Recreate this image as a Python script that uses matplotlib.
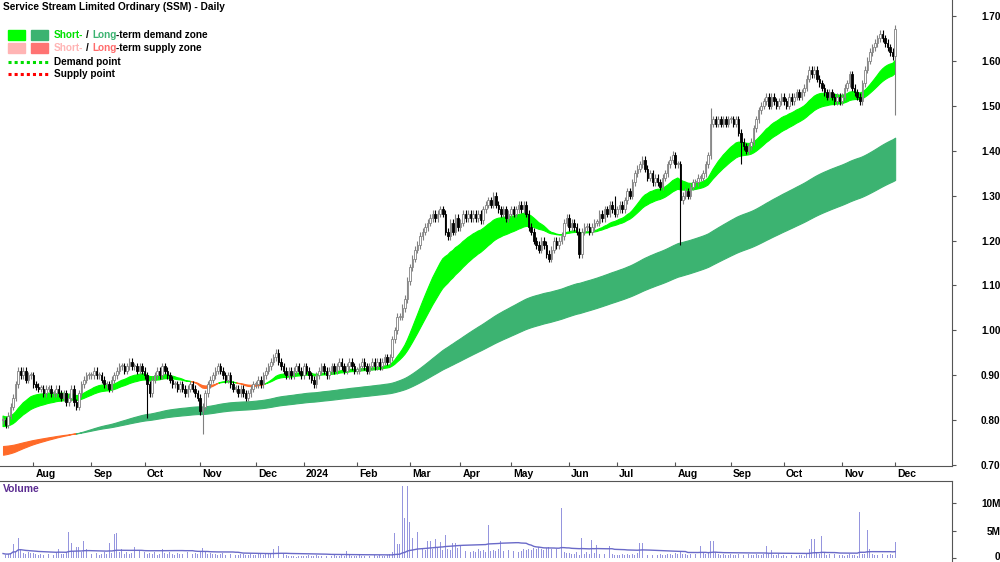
import matplotlib
matplotlib.use('Agg')
import matplotlib.pyplot as plt
import matplotlib.transforms as mtrans
import numpy as np
import pandas as pd
from matplotlib.patches import Rectangle
from matplotlib.lines import Line2D

plt.rcParams['font.family'] = ['Liberation Sans', 'DejaVu Sans']
plt.rcParams['font.weight'] = 'bold'

# one list per calendar month (trading days), Jul 2023 .. Dec 2024
month_labels = ['', 'Aug', 'Sep', 'Oct', 'Nov', 'Dec', '2024', 'Feb', 'Mar', 'Apr', 'May',
                'Jun', 'Jul', 'Aug', 'Sep', 'Oct', 'Nov', 'Dec']

closes = [
    [0.80, 0.79, 0.81, 0.83, 0.85, 0.88, 0.91, 0.90, 0.91, 0.89, 0.90, 0.90],
    [0.88, 0.875, 0.87, 0.87, 0.86, 0.87, 0.87, 0.86, 0.86, 0.87, 0.86, 0.85, 0.86, 0.84,
     0.85, 0.87, 0.84, 0.83, 0.86, 0.88, 0.89, 0.90, 0.90],
    [0.90, 0.91, 0.90, 0.90, 0.89, 0.88, 0.88, 0.87, 0.89, 0.90, 0.91, 0.92, 0.92, 0.91,
     0.92, 0.93, 0.92, 0.92, 0.91, 0.92, 0.91],
    [0.90, 0.88, 0.86, 0.89, 0.90, 0.91, 0.90, 0.92, 0.91, 0.90, 0.89, 0.88, 0.88, 0.87,
     0.88, 0.87, 0.86, 0.87, 0.88, 0.87, 0.86, 0.85],
    [0.82, 0.83, 0.86, 0.88, 0.89, 0.90, 0.91, 0.92, 0.91, 0.90, 0.89, 0.90, 0.88, 0.87,
     0.87, 0.86, 0.87, 0.86, 0.85, 0.86, 0.87, 0.88],
    [0.88, 0.89, 0.88, 0.90, 0.91, 0.92, 0.93, 0.94, 0.95, 0.93, 0.92, 0.91, 0.90, 0.91,
     0.90, 0.91, 0.92, 0.91, 0.90],
    [0.92, 0.91, 0.90, 0.89, 0.88, 0.90, 0.91, 0.92, 0.91, 0.90, 0.91, 0.92, 0.91, 0.92,
     0.93, 0.92, 0.91, 0.92, 0.93, 0.92, 0.91],
    [0.91, 0.92, 0.93, 0.92, 0.91, 0.92, 0.93, 0.92, 0.93, 0.92, 0.93, 0.94, 0.93, 0.94,
     0.98, 1.00, 1.03, 1.03, 1.05, 1.07, 1.11],
    [1.14, 1.16, 1.18, 1.19, 1.21, 1.22, 1.23, 1.24, 1.25, 1.26, 1.25, 1.26, 1.27, 1.26,
     1.22, 1.21, 1.24, 1.22, 1.25, 1.23],
    [1.24, 1.26, 1.25, 1.26, 1.25, 1.26, 1.25, 1.26, 1.245, 1.27, 1.28, 1.29, 1.28, 1.30,
     1.28, 1.27, 1.26, 1.27, 1.25, 1.26],
    [1.27, 1.26, 1.27, 1.28, 1.27, 1.28, 1.26, 1.23, 1.22, 1.20, 1.19, 1.18, 1.20, 1.19,
     1.17, 1.16, 1.18, 1.20, 1.19, 1.20, 1.21, 1.24, 1.25],
    [1.23, 1.24, 1.23, 1.22, 1.17, 1.22, 1.23, 1.23, 1.22, 1.23, 1.24, 1.24, 1.26, 1.25,
     1.27, 1.26, 1.28, 1.27, 1.26],
    [1.27, 1.28, 1.27, 1.29, 1.31, 1.30, 1.33, 1.35, 1.36, 1.37, 1.38, 1.36, 1.34, 1.35,
     1.33, 1.34, 1.33, 1.32, 1.34, 1.35, 1.37, 1.38, 1.39],
    [1.37, 1.37, 1.29, 1.30, 1.31, 1.30, 1.32, 1.33, 1.33, 1.34, 1.34, 1.35, 1.37, 1.39,
     1.46, 1.47, 1.46, 1.47, 1.46, 1.47, 1.46, 1.47],
    [1.47, 1.46, 1.47, 1.44, 1.42, 1.41, 1.40, 1.41, 1.42, 1.45, 1.47, 1.49, 1.50, 1.51,
     1.52, 1.50, 1.52, 1.51, 1.50, 1.51, 1.52],
    [1.51, 1.50, 1.52, 1.51, 1.52, 1.53, 1.52, 1.53, 1.54, 1.56, 1.58, 1.57, 1.58, 1.56,
     1.55, 1.54, 1.53, 1.52, 1.53, 1.52, 1.51, 1.52, 1.51],
    [1.52, 1.54, 1.55, 1.57, 1.54, 1.53, 1.52, 1.51, 1.55, 1.58, 1.60, 1.62, 1.63, 1.64,
     1.65, 1.66, 1.65, 1.64, 1.63, 1.62, 1.61],
    [1.67],
]

volumes = [  # millions
    [0.9, 0.7, 0.8, 1.0, 2.6, 1.2, 3.8, 1.8, 1.0, 0.9, 1.1, 1.0],
    [1.0, 0.8, 0.6, 0.9, 0.7, 0.6, 0.8, 0.9, 0.7, 1.0, 1.7, 0.8, 0.9, 1.1, 4.8, 2.8, 1.4,
     2.0, 2.0, 1.2, 3.2, 1.7, 1.7],
    [0.9, 0.8, 1.0, 0.7, 0.9, 1.1, 0.8, 2.8, 1.0, 4.4, 4.6, 1.2, 1.7, 0.9, 1.1, 0.8, 1.0,
     2.0, 0.9, 1.6, 0.8],
    [1.2, 0.9, 1.0, 0.8, 1.1, 0.7, 0.9, 1.7, 1.0, 0.8, 1.2, 0.9, 0.7, 1.0, 0.8, 0.9, 0.7,
     1.1, 0.8, 0.9, 1.0, 0.8],
    [1.3, 1.85, 1.1, 0.9, 1.0, 0.8, 0.9, 0.7, 0.8, 1.0, 0.6, 0.7, 0.9, 0.8, 0.6, 0.7, 0.8,
     0.9, 0.6, 0.7, 0.8, 0.7],
    [0.7, 0.8, 0.9, 0.7, 0.8, 1.0, 0.9, 1.7, 1.6, 2.2, 1.0, 0.8, 0.6, 0.5, 0.4, 0.5, 0.3,
     0.4, 0.5],
    [0.4, 0.5, 0.6, 0.5, 0.4, 0.6, 0.5, 0.4, 0.6, 0.5, 0.4, 0.5, 0.6, 0.4, 0.5, 0.6, 0.5,
     1.4, 0.6, 0.5, 0.4],
    [0.5, 0.6, 0.4, 0.5, 0.6, 0.5, 0.4, 0.7, 0.5, 0.6, 0.5, 0.4, 0.6, 0.9, 1.2, 4.6, 2.6,
     2.6, 13.1, 7.3, 13.1],
    [6.7, 3.8, 5.5, 4.9, 2.0, 1.8, 1.6, 3.2, 3.2, 1.7, 3.5, 1.9, 3.0, 1.6, 4.2, 1.8, 1.5,
     2.8, 2.8, 1.9],
    [2.2, 1.5, 1.3, 1.6, 1.2, 1.4, 1.1, 1.7, 1.3, 1.5, 1.2, 6.0, 1.4, 1.6, 1.3, 1.8, 3.2,
     1.4, 1.2, 1.5],
    [1.6, 1.3, 1.5, 1.2, 1.4, 1.7, 1.5, 1.8, 1.6, 1.9, 1.7, 2.0, 1.8, 1.6, 1.9, 2.1, 1.7,
     1.5, 1.8, 1.6, 9.1, 1.2, 1.0],
    [1.0, 0.8, 0.9, 1.1, 0.7, 3.8, 0.9, 1.2, 0.8, 3.3, 1.0, 2.5, 0.9, 1.3, 0.8, 0.7, 2.2,
     0.9, 0.6],
    [0.7, 0.6, 0.8, 0.7, 0.9, 0.6, 0.8, 0.7, 1.0, 2.9, 2.9, 0.9, 0.7, 0.8, 0.6, 0.9, 0.7,
     0.8, 0.6, 0.7, 0.9, 0.8, 0.7],
    [1.0, 0.9, 1.2, 0.8, 0.9, 0.7, 0.8, 0.6, 0.9, 1.1, 2.2, 1.0, 0.8, 1.2, 3.2, 3.2, 1.1,
     0.9, 0.7, 0.8, 0.6, 0.7],
    [0.8, 0.6, 0.7, 0.9, 0.6, 0.7, 0.5, 0.8, 0.6, 0.7, 0.9, 0.6, 0.7, 0.8, 2.3, 0.9, 1.6,
     0.7, 0.6, 0.8, 0.5],
    [0.6, 0.5, 0.7, 0.6, 0.8, 0.5, 0.6, 0.7, 0.5, 0.9, 1.8, 3.6, 3.5, 1.0, 0.8, 4.0, 1.1,
     0.7, 0.8, 0.6, 0.9, 1.7, 0.6],
    [0.7, 0.5, 0.6, 0.8, 0.6, 0.7, 0.5, 8.5, 0.9, 0.8, 5.1, 1.7, 0.8, 0.6, 0.7, 0.5, 0.8,
     0.6, 0.7, 0.9, 0.6],
    [3.0],
]

first_open = 0.80
# long wicks (day index -> price)
low_spikes = {57: 0.805, 79: 0.77, 268: 1.19, 292: 1.37, 353: 1.48}
high_spikes = {280: 1.495, 353: 1.68, 242: 1.30, 265: 1.40}

# band levels before the first day
short_seed = (0.81, 0.785)
long_seed = (0.722, 0.742)

close = np.array([c for m in closes for c in m])
vol = np.array([v for m in volumes for v in m])
n = len(close)
x = np.arange(n)
month_start = np.cumsum([0] + [len(m) for m in closes])[:-1]

opens = np.concatenate([[first_open], close[:-1]])
top = np.maximum(opens, close)
bot = np.minimum(opens, close)
high = top + 0.008
low = bot - 0.008
for k, v in low_spikes.items():
    low[k] = v
for k, v in high_spikes.items():
    high[k] = v


def ema(vals, span, seed):
    a = 2.0 / (span + 1)
    out = np.empty(len(vals))
    prev = seed
    for i, v in enumerate(vals):
        prev = prev + a * (v - prev)
        out[i] = prev
    return out


s_fast = ema(close, 23, short_seed[0])
s_slow = ema(close, 40, short_seed[1])
l_fast = ema(close, 140, long_seed[0])
l_slow = ema(close, 220, long_seed[1])

fig = plt.figure(figsize=(10, 5.62), dpi=100)
ax = fig.add_axes([0, 1 - 466 / 562, 0.952, 466 / 562])
axv = fig.add_axes([0, 0, 0.952, 81 / 562])

demand_s, demand_l, supply = '#00FF00', '#3CB371', '#FF6A28'

for fast, slow, col in [(l_fast, l_slow, demand_l), (s_fast, s_slow, demand_s)]:
    up = fast >= slow
    ax.fill_between(x, fast, slow, where=up, interpolate=True, color=col, lw=0.8, zorder=1)
    ax.fill_between(x, fast, slow, where=~up, interpolate=True, color=supply, lw=0.8, zorder=1)

rising = close >= opens
wick_col = np.where(rising, '#808080', 'black')
ax.vlines(x, low, high, colors=wick_col, lw=0.8, zorder=2)
ax.bar(x, np.maximum(top - bot, 0.003), bottom=bot, width=0.62,
       color=np.where(rising, 'white', 'black'), edgecolor=wick_col, lw=0.6, zorder=3)

ax.set_xlim(-1.2, 375.5)
ax.set_ylim(0.698, 1.7356)
for s in ['top', 'left']:
    ax.spines[s].set_visible(False)
ax.spines['right'].set_color('#555555')
ax.spines['bottom'].set_color('#555555')
ax.yaxis.tick_right()
ax.set_yticks(np.arange(0.7, 1.71, 0.1))
ax.set_yticklabels(['%.2f' % t for t in np.arange(0.7, 1.71, 0.1)])
ax.tick_params(axis='y', direction='out', length=3, pad=32, labelsize=7.2, colors='#555555',
               labelcolor='black')
for lab in ax.get_yticklabels():
    lab.set_ha('right')
ax.set_xticks(month_start[1:])
ax.set_xticklabels(month_labels[1:])
ax.tick_params(axis='x', direction='in', length=3, pad=2, labelsize=7.5, colors='#555555',
               labelcolor='black')
shift = mtrans.ScaledTranslation(2 / 100, 0, fig.dpi_scale_trans)
for lab in ax.get_xticklabels():
    lab.set_ha('left')
    lab.set_transform(lab.get_transform() + shift)

# volume
vol_ma = pd.Series(vol).rolling(50, min_periods=1).mean()
axv.bar(x, vol, width=0.35, color='#9595DE', zorder=2)
axv.plot(x, vol_ma, color='#6A6AC8', lw=1.0, zorder=3)
axv.set_xlim(-1.2, 375.5)
axv.set_ylim(-0.64, 14.09)
for s in ['left', 'bottom']:
    axv.spines[s].set_visible(False)
axv.spines['right'].set_color('#555555')
axv.spines['top'].set_color('#555555')
axv.set_xticks([])
axv.yaxis.tick_right()
axv.set_yticks([0, 5, 10])
axv.set_yticklabels(['0', '5M', '10M'])
axv.tick_params(axis='y', direction='out', length=3, pad=32, labelsize=7.2, colors='#555555',
                labelcolor='black')
up_shift = mtrans.ScaledTranslation(0, 2 / 100, fig.dpi_scale_trans)
for lab in axv.get_yticklabels():
    lab.set_ha('right')
zero_lab = axv.get_yticklabels()[0]
zero_lab.set_transform(zero_lab.get_transform() + up_shift)
fig.text(3 / 1000, 1 - 489 / 562, 'Volume', color='#5B2C91', fontsize=7.5, va='center')

# title and legend
fig.text(3 / 1000, 1 - 7 / 562, 'Service Stream Limited Ordinary (SSM) - Daily',
         fontsize=7.3, va='center')


def px(xp, yp):
    return xp / 1000, 1 - yp / 562


for (x0, y0, c) in [(8, 30, '#00FF00'), (31, 30, '#3CB371'), (8, 43, '#FFB4B4'),
                    (31, 43, '#FF7373')]:
    fx, fy = px(x0, y0 + 10)
    fig.patches.append(Rectangle((fx, fy), 17 / 1000, 10 / 562, transform=fig.transFigure,
                                 color=c, figure=fig))
for yy, c in [(62, '#00DD00'), (74, '#FF0000')]:
    fig.lines.append(Line2D([8 / 1000, 48 / 1000], [1 - yy / 562] * 2, transform=fig.transFigure,
                            color=c, lw=2.2, ls=(0, (1, 1)), figure=fig))

renderer = fig.canvas.get_renderer()


def colored_line(parts, x0, yp):
    xc = x0
    for txt, col, gap in parts:
        t = fig.text(xc / 1000, 1 - yp / 562, txt, color=col, fontsize=7.2, va='center')
        bb = t.get_window_extent(renderer)
        xc = bb.x1 + gap


colored_line([('Short-', '#00E000', 3), ('/', 'black', 3), ('Long', '#3CB371', 0),
              ('-term demand zone', 'black', 0)], 54, 35)
colored_line([('Short-', '#FFB4B4', 3), ('/', 'black', 3), ('Long', '#FF6B6B', 0),
              ('-term supply zone', 'black', 0)], 54, 48)
fig.text(54 / 1000, 1 - 62 / 562, 'Demand point', fontsize=7.2, va='center')
fig.text(54 / 1000, 1 - 74 / 562, 'Supply point', fontsize=7.2, va='center')

fig.savefig('out.png', dpi=100)
